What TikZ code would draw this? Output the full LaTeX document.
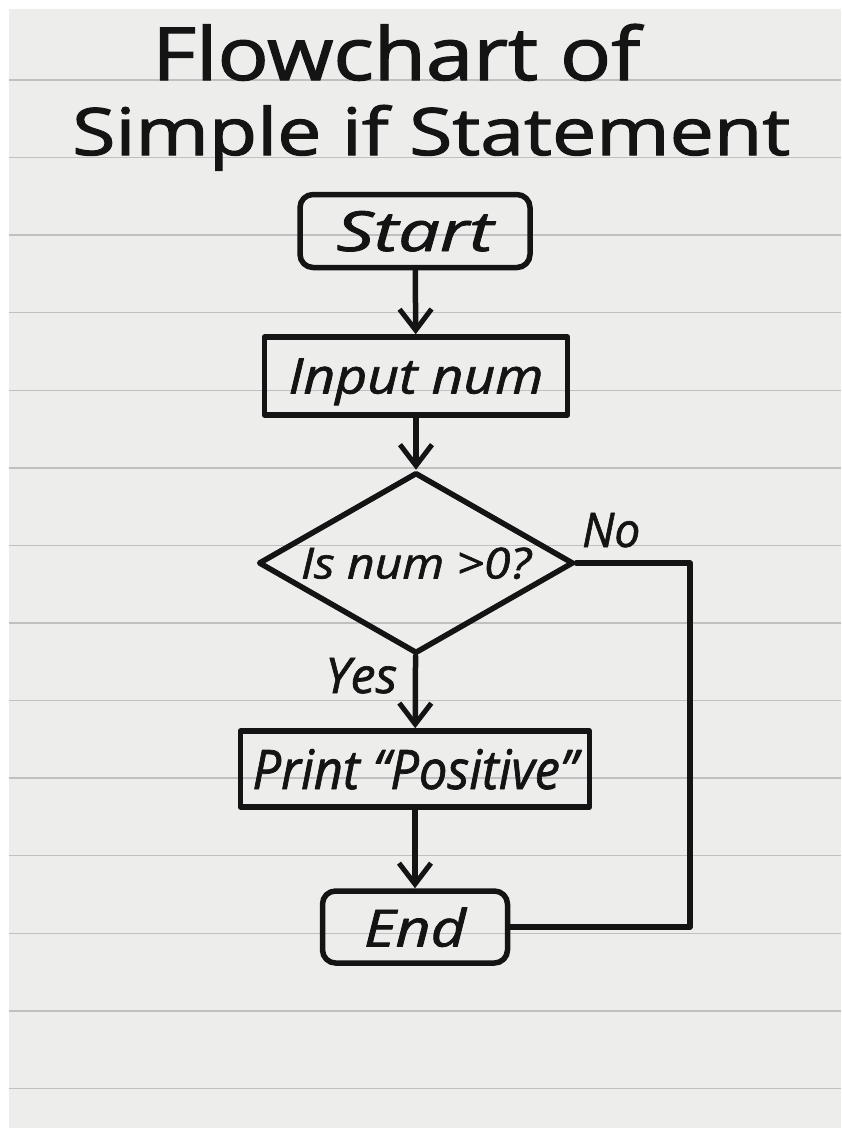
\documentclass[tikz,border=0pt]{standalone}
\usepackage{fontspec}
\setmainfont{Open Sans}
\newfontfamily\handfont[FakeBold=1.4]{Open Sans}
\newfontfamily\headfont[FakeBold=1.6]{Open Sans}
\usetikzlibrary{arrows.meta,shapes.geometric}
\definecolor{paper}{HTML}{EDEDEB}
\definecolor{ruling}{HTML}{C0C0C0}
\definecolor{ink}{HTML}{141414}

% handwritten-style label: fixed width, fixed height above the baseline
\newcommand\hw[3]{\resizebox{#1pt}{#2pt}{\handfont\itshape #3}}
\newcommand\hwup[3]{\resizebox{#1pt}{#2pt}{\headfont #3}}

\tikzset{
  ink line/.style={draw=ink, line width=5.5pt, line join=round, line cap=round},
  terminal/.style={ink line, rectangle, rounded corners=13pt, inner sep=0pt, text depth=0pt, text=ink},
  process/.style={ink line, rectangle, inner sep=0pt, text depth=0pt, text=ink},
  decision/.style={ink line, diamond, aspect=1.74, inner sep=0pt, text depth=0pt, text=ink},
  flow/.style={ink line, -{Straight Barb[length=21pt,width=32pt,line width=5pt]}},
  tag/.style={anchor=base west, inner sep=0pt, text=ink},
}

\begin{document}
\begin{tikzpicture}[x=1pt,y=-1pt]
\useasboundingbox (0,0) rectangle (841,1130);
\fill[white] (0,0) rectangle (841,1130);

% ruled sheet
\fill[paper] (9,9) rectangle (841,1128);
\foreach \k in {0,...,13}
  \draw[ruling, line width=1.4pt] (9,{80+77.57*\k}) -- (841,{80+77.57*\k});

% title
\node[tag] (title1) at (152,80) {\hwup{488}{56}{Flowchart of}};
\node[tag] (title2) at (72,155) {\hwup{718}{50}{Simple if Statement}};

% flowchart
\node[terminal, minimum width=230pt, minimum height=73pt] (start) at (415,231) {\hw{157}{40}{Start}};
\node[process, minimum width=303pt, minimum height=78pt] (input) at (416,376) {\hw{255}{35}{Input num}};
\node[decision, minimum width=315pt, minimum height=181pt] (test) at (416,563) {\hw{230}{31}{Is num >0?}};
\node[process, minimum width=349pt, minimum height=76pt] (print) at (415,769) {\hw{325}{40}{Print “Positive”}};
\node[terminal, minimum width=185pt, minimum height=72pt] (stop) at (415,927) {\hw{102}{39}{End}};

\coordinate (noturn) at (690,563);

\draw[flow] (start) -- (input);
\draw[flow] (input) -- (test);
\draw[flow] (test) -- (print);
\draw[flow] (print) -- (stop);
\draw[ink line] (test.east) -- (noturn) |- (stop.east);

\node[tag] (nolabel) at (582,547) {\hw{58}{34}{No}};
\node[tag] (yeslabel) at (325,693) {\hw{72}{35}{Yes}};
\end{tikzpicture}
\end{document}
